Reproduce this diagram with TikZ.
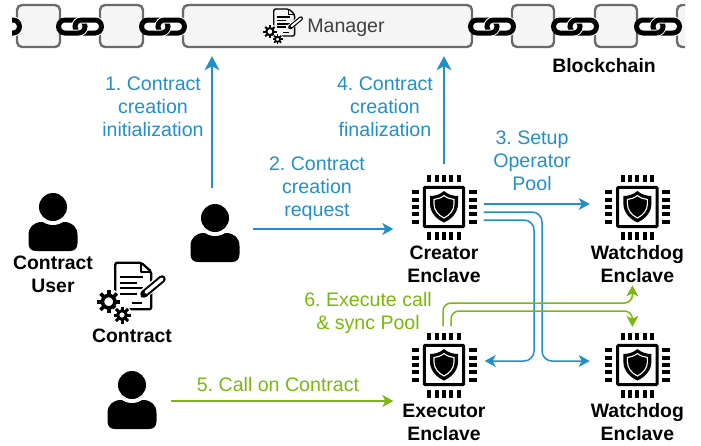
\documentclass[tikz,border=0pt]{standalone}
\usepackage{fontspec}
\setmainfont{Liberation Sans}
\frenchspacing
\usetikzlibrary{arrows.meta, positioning}

\definecolor{flowblue}{HTML}{2290C8}
\definecolor{flowgreen}{HTML}{7AB80E}
\tikzset{
    blockbox/.style={rectangle, rounded corners=5pt, draw=black!58, line width=2.4pt, fill=black!4, inner sep=0pt, minimum height=42pt},
    bluetext/.style={text=flowblue, align=center, inner sep=0pt, font=\fontsize{19.6}{23}\selectfont},
    greentext/.style={text=flowgreen, align=center, inner sep=0pt, font=\fontsize{19.6}{23}\selectfont},
    nametext/.style={align=center, inner sep=0pt, font=\fontsize{19.4}{23}\selectfont\bfseries},
    iconbox/.style={inner sep=0pt, minimum width=#1, minimum height=#1},
    blueflow/.style={draw=flowblue, line width=1.5pt, rounded corners=10pt, -{Stealth[length=11pt, width=12pt, inset=3pt]}},
    greenflow/.style={draw=flowgreen, line width=1.5pt, rounded corners=8pt, -{Stealth[length=11pt, width=12pt, inset=3pt]}},
    bigtip/.style={-{Stealth[length=14pt, width=15pt, inset=4pt]}},
    % chain link between two blocks
    chainlink/.pic={
        \draw[line width=5pt, rounded corners=6.5pt] (-21.5,-6.5) rectangle (5,6.5);
        \draw[white, line width=7pt, rounded corners=6.5pt] (-5,-6.5) rectangle (21.5,6.5);
        \draw[line width=5pt, rounded corners=6.5pt] (-5,-6.5) rectangle (21.5,6.5);
        \begin{scope}
            \clip (-8,1) rectangle (9,11);
            \draw[white, line width=7pt, rounded corners=6.5pt] (-21.5,-6.5) rectangle (5,6.5);
            \draw[line width=5pt, rounded corners=6.5pt] (-21.5,-6.5) rectangle (5,6.5);
        \end{scope}
    },
    usericon/.pic={
        \fill (-24.5,21) -- (-24.5,13) .. controls (-24.5,5) and (-19,0) .. (-11,0) -- (11,0) .. controls (19,0) and (24.5,5) .. (24.5,13) -- (24.5,21) .. controls (24.5,26) and (22,29) .. (17,29) -- (-17,29) .. controls (-22,29) and (-24.5,26) .. (-24.5,21) -- cycle;
        \fill[white] (0,-15) circle (18);
        \fill (0,-15) circle (14);
    },
    chipicon/.pic={
        \foreach \p in {-14.6,-7.3,0,7.3,14.6} {
            \fill (\p-2,-32.5) rectangle (\p+2,-25);
            \fill (\p-2,25) rectangle (\p+2,32.5);
            \fill (-32.5,\p-2) rectangle (-25,\p+2);
            \fill (25,\p-2) rectangle (32.5,\p+2);
        }
        \draw[line width=3pt, rounded corners=1pt] (-19.7,-19.7) rectangle (19.7,19.7);
        \fill (0,-16) .. controls (-4,-12.5) and (-9,-11) .. (-14,-11) -- (-14,-3) .. controls (-14,5) and (-8,12) .. (0,15.5) .. controls (8,12) and (14,5) .. (14,-3) -- (14,-11) .. controls (9,-11) and (4,-12.5) .. (0,-16) -- cycle;
        \draw[white, line width=1.1pt] (0,-11.5) .. controls (-3,-9) and (-6.5,-8) .. (-10,-7.5) -- (-10,-3) .. controls (-10,3) and (-6,8) .. (0,11) .. controls (6,8) and (10,3) .. (10,-3) -- (10,-7.5) .. controls (6.5,-8) and (3,-9) .. (0,-11.5) -- cycle;
    },
    contracticon/.pic={
        \begin{scope}[scale=#1, line width=#1*2.3pt]
            \draw[line join=round, rounded corners=2pt] (8.3,-23.3) -- (-17.7,-23.3) -- (-17.7,23.3) -- (18.3,23.3) -- (18.3,-14.3) -- cycle;
            \draw[line join=round] (8.3,-23.3) -- (8.3,-14.3) -- (18.3,-14.3);
            \foreach \y/\e in {-9.3/10, -3.3/4, 2.3/9.5, 8/3.5} {
                \draw (-12.7,\y) -- (\e,\y);
            }
            \draw (-1,16.7) -- (9,16.7);
            \draw[white, line width=#1*10pt] (9,9) -- (30,-8);
            \draw[line width=#1*7.5pt, line cap=round] (11,8) -- (29,-7);
            \draw[white, line width=#1*3.4pt, line cap=round] (13,6.3) -- (29,-7);
            \fill (8,11.5) -- (9,5) -- (14,9.5) -- cycle;
            % two gears
            \foreach \gx/\gy/\gi/\go/\gl in {-24.3/15.7/6.2/11.5/3.6, -11/29/4.3/8.5/3} {
                \fill[white] (\gx,\gy) circle (\go+1.5);
                \draw[line width=#1*\gl*1pt] (\gx,\gy) circle (\gi);
                \foreach \a in {0,45,...,315} {
                    \draw[line width=#1*\gl*1pt] (\gx,\gy) ++(\a:\gi) -- ++(\a:\go-\gi);
                }
            }
        \end{scope}
    }
}

\begin{document}
\begin{tikzpicture}[x=1pt, y=-1pt]
    \useasboundingbox (0,0) rectangle (701,445);

    % Blockchain
    \begin{scope}
        \clip (12,0) rectangle (685,60);
        \node (blockA) [blockbox, minimum width=43pt] at (38.5,26) {};
        \node (blockB) [blockbox, minimum width=43pt] at (121.5,26) {};
        \node (manager) [blockbox, minimum width=289pt] at (327.5,26) {};
        \node (blockC) [blockbox, minimum width=42pt] at (533,26) {};
        \node (blockD) [blockbox, minimum width=42pt] at (616,26) {};
        \node (blockE) [blockbox, minimum width=42pt] at (698,26) {};
        \foreach \x in {-2,80,163,492,575,658} {
            \pic at (\x,26.5) {chainlink};
        }
    \end{scope}
    \node (managerlabel) [inner sep=0pt, text=black!75, font=\fontsize{19.6}{23}\selectfont] at (346,28) {Manager};
    \pic at (284,22.5) {contracticon=0.58};
    \node (blockchain) [nametext] at (604,66) {Blockchain};

    % Define nodes
    \node (callerA) [iconbox=58pt] at (53,222) {};
    \pic at (callerA) {usericon};
    \node (callerB) [iconbox=58pt] at (215,233) {};
    \pic at (callerB) {usericon};
    \node (callerC) [iconbox=58pt] at (132,400) {};
    \pic at (callerC) {usericon};
    \node (userlabel) [nametext, below=5pt of callerA] {Contract\\User};

    \node (contract) [iconbox=50pt] at (133,286) {};
    \pic at (contract) {contracticon=1};
    \node (contractlabel) [nametext] at (132,336) {Contract};

    \node (creator) [iconbox=65pt] at (444,207) {};
    \node (watchdogA) [iconbox=65pt, right=128pt of creator] {};
    \node (executor) [iconbox=65pt] at (444,365) {};
    \node (watchdogB) [iconbox=65pt, right=128pt of executor] {};
    \foreach \chip in {creator, watchdogA, executor, watchdogB} {
        \pic at (\chip) {chipicon};
    }
    \node (creatorlabel) [nametext, below=6pt of creator] {Creator\\Enclave};
    \node (watchdogAlabel) [nametext, below=6pt of watchdogA] {Watchdog\\Enclave};
    \node (executorlabel) [nametext, below=6pt of executor] {Executor\\Enclave};
    \node (watchdogBlabel) [nametext, below=6pt of watchdogB] {Watchdog\\Enclave};

    % Flow labels
    \node (stepone) [bluetext] at (153,107) {1. Contract\\creation\\initialization};
    \node (steptwo) [bluetext] at (317,188.5) {2. Contract\\creation\\request};
    \node (stepthree) [bluetext] at (532,161) {3. Setup\\Operator\\Pool};
    \node (stepfour) [bluetext] at (385,106.5) {4. Contract\\creation\\finalization};
    \node (stepfive) [greentext] at (278,384) {5. Call on Contract};
    \node (stepsix) [greentext] at (368,313) {6. Execute call\\\& sync Pool};

    \coordinate (busA) at (542,290);
    \coordinate (busB) at (534,290);
    \coordinate (busC) at (540,303);
    \coordinate (busD) at (540,311);

    % Connect nodes
    \draw[blueflow, bigtip, shorten <=16pt, shorten >=8pt] ([xshift=-3pt]callerB.north) -- ([xshift=-3pt]callerB.north |- manager.south);
    \draw[blueflow, bigtip, shorten <=10pt, shorten >=8pt] (creator.north) -- (creator.north |- manager.south);
    \draw[blueflow, shorten <=9pt, shorten >=18pt] ([yshift=4pt]callerB.east) -- ([yshift=-22pt]creator.west);
    \draw[blueflow, shorten <=7pt, shorten >=15pt] ([yshift=3pt]creator.east) -- ([yshift=3pt]watchdogA.west);
    \draw[blueflow, shorten <=7pt, shorten >=15pt] ([yshift=-5pt]creator.east) -| (busA) |- ([yshift=4pt]watchdogB.west);
    \draw[blueflow, shorten <=7pt, shorten >=8pt] ([yshift=-13pt]creator.east) -| (busB) |- ([yshift=4pt]executor.east);
    \draw[greenflow, shorten <=6pt, shorten >=2pt] ([xshift=-1pt]executor.north) |- (busC) -| ([xshift=-5pt]watchdogAlabel.south);
    \draw[greenflow, shorten <=6pt, shorten >=5.5pt] ([xshift=7pt]executor.north) |- (busD) -| ([xshift=-5pt]watchdogB.north);
    \draw[greenflow, shorten <=10pt, shorten >=18pt] ([yshift=-1pt]callerC.east) -- ([yshift=-36pt]executor.west);
\end{tikzpicture}
\end{document}
